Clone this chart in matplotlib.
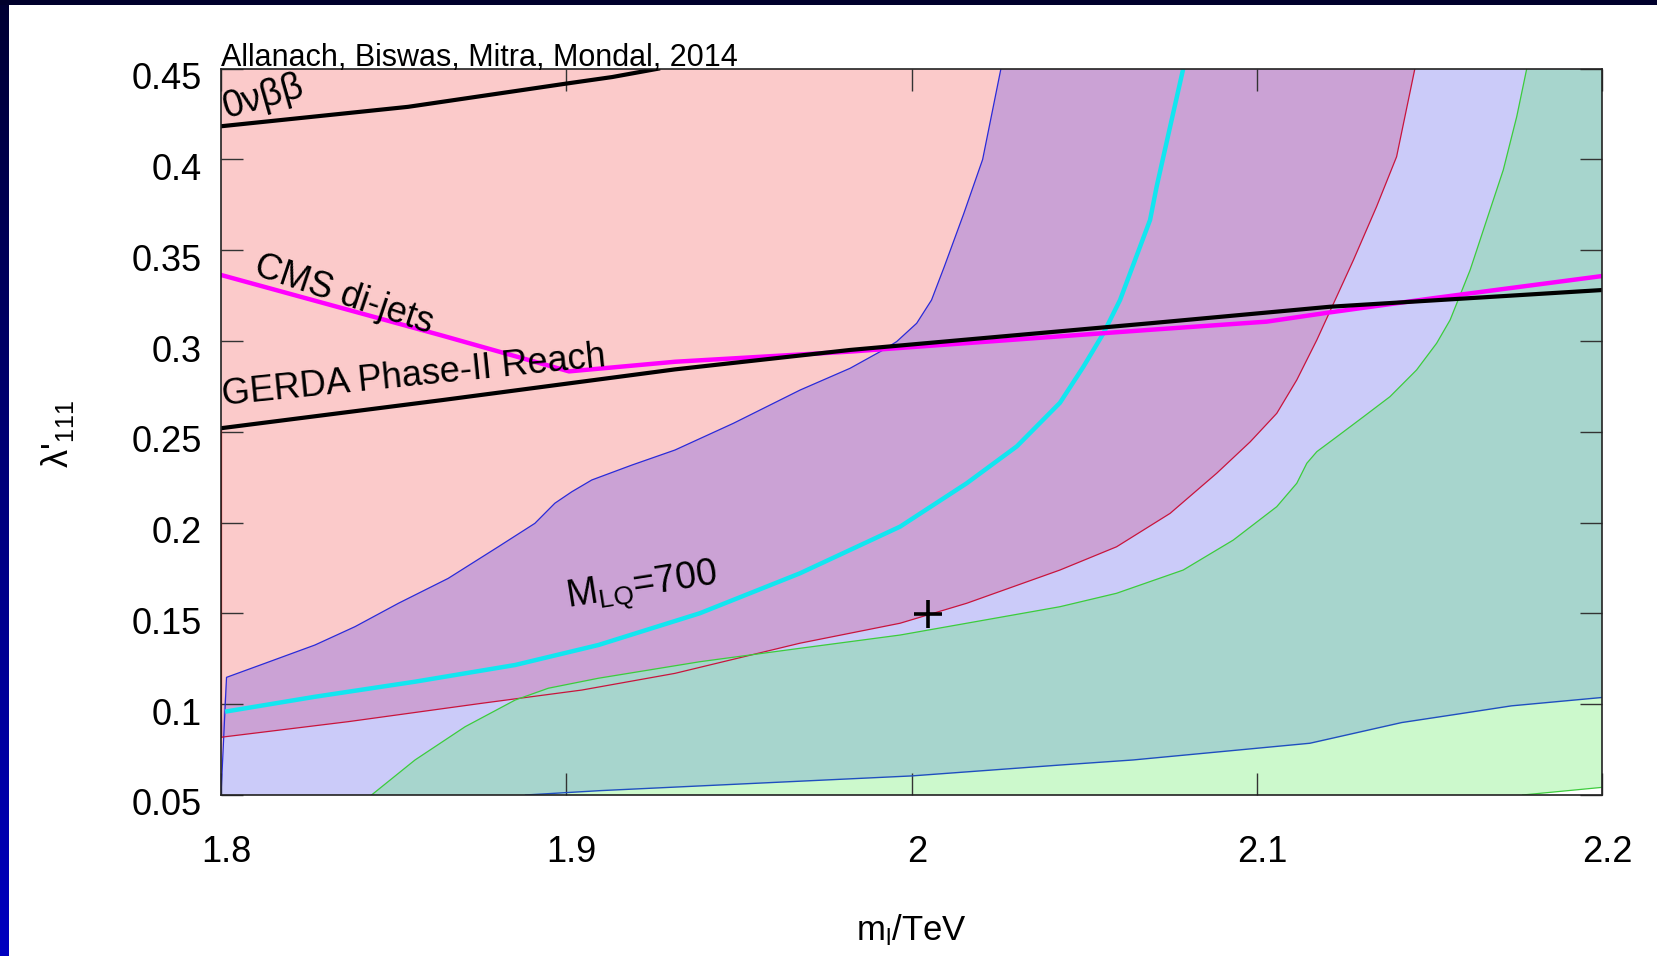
import numpy as np
import matplotlib
matplotlib.use("Agg")
import matplotlib.pyplot as plt
from matplotlib.transforms import ScaledTranslation

plt.rcParams['font.family'] = ['Liberation Sans', 'DejaVu Sans']
plt.rcParams['mathtext.default'] = 'regular'

# boundary curves (m_l in TeV, lambda'_111)
blue_up_x = [1.8, 1.8016, 1.8127, 1.8272, 1.8388, 1.8514, 1.8658, 1.8803, 1.8909, 1.8967,
             1.9016, 1.9074, 1.9190, 1.9315, 1.9484, 1.9677, 1.9822, 1.9918, 1.9957, 2.0015,
             2.0058, 2.0095, 2.0151, 2.0206, 2.0259]
blue_up_y = [0.05, 0.1148, 0.1225, 0.1326, 0.1427, 0.1556, 0.1693, 0.1867, 0.1996, 0.2107,
             0.2170, 0.2235, 0.2317, 0.2400, 0.2547, 0.2730, 0.2850, 0.2951, 0.2997, 0.3098,
             0.3226, 0.341, 0.370, 0.400, 0.45]

red_x = [1.8, 1.8369, 1.8755, 1.9045, 1.9315, 1.9677, 1.9967, 2.0160, 2.0430, 2.0594, 2.0749,
         2.0884, 2.0981, 2.1058, 2.1116, 2.1174, 2.1227, 2.1280, 2.1347, 2.1405, 2.1458]
red_y = [0.0818, 0.0904, 0.1005, 0.1078, 0.1170, 0.1336, 0.1446, 0.1556, 0.1739, 0.1867, 0.2051,
         0.2272, 0.2445, 0.2602, 0.2786, 0.3006, 0.3226, 0.3446, 0.374, 0.4015, 0.45]

green_x = [1.8436, 1.8562, 1.8707, 1.8852, 1.8948, 1.9093, 1.9387, 1.9677, 1.9967, 2.0160,
           2.0430, 2.0594, 2.0787, 2.0932, 2.1058, 2.1116, 2.1145, 2.1174, 2.1232, 2.1309,
           2.1386, 2.1463, 2.1521, 2.1560, 2.1618, 2.1666, 2.1714, 2.1753, 2.1782]
green_y = [0.05, 0.0693, 0.0876, 0.1023, 0.1088, 0.1143, 0.1234, 0.1308, 0.1381, 0.1446,
           0.1537, 0.1611, 0.1739, 0.1904, 0.2088, 0.2217, 0.2327, 0.2391, 0.2473, 0.2583,
           0.2694, 0.2841, 0.2988, 0.3116, 0.3391, 0.3667, 0.3942, 0.4236, 0.45]

blue_lo_x = [1.8882, 1.9098, 2.0, 2.043, 2.0642, 2.1154, 2.142, 2.158, 2.1738, 2.2]
blue_lo_y = [0.05, 0.0524, 0.0605, 0.0665, 0.0693, 0.0785, 0.0899, 0.0945, 0.0991, 0.1037]

green_lo_x = [2.177, 2.2]
green_lo_y = [0.05, 0.0542]

cyan_x = [1.8012, 1.8272, 1.8562, 1.8852, 1.9093, 1.9387, 1.9677, 1.9967, 2.0160, 2.0305,
          2.0430, 2.0498, 2.0556, 2.0604, 2.0691, 2.0710, 2.0749, 2.0787]
cyan_y = [0.0959, 0.1041, 0.1124, 0.1216, 0.1326, 0.1501, 0.1721, 0.1978, 0.2217, 0.2420,
          0.2660, 0.2859, 0.3043, 0.3226, 0.3667, 0.385, 0.418, 0.45]

cms_x = [1.8, 1.8641, 1.9008, 1.9315, 1.9822, 2.0691, 2.1029, 2.1212, 2.1511, 2.2]
cms_y = [0.3364, 0.303, 0.2833, 0.2886, 0.2942, 0.3062, 0.3107, 0.3158, 0.3236, 0.3358]

gerda_x = [1.8, 1.8641, 1.9315, 1.9822, 2.0691, 2.1212, 2.2]
gerda_y = [0.252, 0.2675, 0.2844, 0.2951, 0.3098, 0.3189, 0.3281]

onubb_x = [1.8, 1.8542, 1.9, 1.9133, 1.9266]
onubb_y = [0.4183, 0.429, 0.4418, 0.4454, 0.45]

best_fit = (2.0049, 0.1497)

xticks = [1.8, 1.9, 2.0, 2.1, 2.2]
xticklabels = ['1.8', '1.9', '2', '2.1', '2.2']
yticks = [0.05, 0.1, 0.15, 0.2, 0.25, 0.3, 0.35, 0.4, 0.45]
yticklabels = ['0.05', '0.1', '0.15', '0.2', '0.25', '0.3', '0.35', '0.4', '0.45']

PINK = '#fbcaca'
PURPLE = '#cba2d5'
LAVENDER = '#cbcbf9'
TEAL = '#a7d5cd'
LIGHTGREEN = '#ccf9cc'

fig = plt.figure(figsize=(16.58, 9.56), dpi=100)

# slide background strips
grad = np.linspace(0, 1, 256).reshape(-1, 1)
side = fig.add_axes([0, 0, 9 / 1658, 1])
side.imshow(grad, aspect='auto', cmap=matplotlib.colors.LinearSegmentedColormap.from_list(
    'sl', ['#000033', '#0000c0']))
side.set_axis_off()
top = fig.add_axes([0, 1 - 5 / 956, 1, 5 / 956])
top.set_facecolor('#00002c')
top.set_xticks([])
top.set_yticks([])
for s in top.spines.values():
    s.set_visible(False)

ax = fig.add_axes([221 / 1658, 1 - 795 / 956, (1602 - 221) / 1658, (795 - 68.7) / 956])
ax.set_facecolor(PINK)
ax.set_xlim(1.8, 2.2)
ax.set_ylim(0.05, 0.45)

# filled regions
bx = blue_up_x + [2.2] + blue_lo_x[::-1]
by = blue_up_y + [0.45] + blue_lo_y[::-1]
ax.fill(bx, by, color=LAVENDER, lw=0)

px = blue_up_x[1:] + red_x[::-1]
py = blue_up_y[1:] + red_y[::-1]
ax.fill(px, py, color=PURPLE, lw=0)

tx = green_x + [2.2] + blue_lo_x[::-1]
ty = green_y + [0.45] + blue_lo_y[::-1]
ax.fill(tx, ty, color=TEAL, lw=0)

gx = blue_lo_x + green_lo_x[::-1]
gy = blue_lo_y + green_lo_y[::-1]
ax.fill(gx, gy, color=LIGHTGREEN, lw=0)
ax.fill(green_lo_x + [2.2], green_lo_y + [0.05], color='white', lw=0)

# thin boundaries
ax.plot(blue_up_x, blue_up_y, color='#2a2ad8', lw=0.9)
ax.plot(red_x, red_y, color='#c8143c', lw=0.9)
ax.plot([1.8, 1.8], [red_y[0], gerda_y[0]], color='#e01010', lw=1.6)
ax.plot(green_x, green_y, color='#3ccc3c', lw=0.9)
ax.plot(green_lo_x, green_lo_y, color='#3ccc3c', lw=0.9)
ax.plot(blue_lo_x, blue_lo_y, color='#1f4fbf', lw=1.0)

# thick lines
ax.plot(cyan_x, cyan_y, color='#12e6f0', lw=3.2, solid_capstyle='butt')
ax.plot(cms_x, cms_y, color='#ff00ff', lw=3.2)
ax.plot(gerda_x, gerda_y, color='black', lw=3.0)
ax.plot(onubb_x, onubb_y, color='black', lw=3.0)
ax.plot(*best_fit, marker='+', color='black', ms=20, mew=2.6)

# annotations
ax.text(1.8015, 0.4225, '0νββ', fontsize=27, rotation=16, rotation_mode='anchor',
        ha='left', va='baseline')
ax.text(1.809, 0.3365, 'CMS di-jets', fontsize=26, rotation=-18.5, rotation_mode='anchor',
        ha='left', va='baseline')
ax.text(1.8007, 0.2648, 'GERDA Phase-II Reach', fontsize=26, rotation=5.8,
        rotation_mode='anchor', ha='left', va='baseline')
ax.text(1.9006, 0.1528, 'M$_{LQ}$=700', fontsize=27, rotation=9, rotation_mode='anchor',
        ha='left', va='baseline')
ax.text(0, 1.004, 'Allanach, Biswas, Mitra, Mondal, 2014', transform=ax.transAxes,
        fontsize=22, ha='left', va='baseline')

ax.set_xticks(xticks)
ax.set_xticklabels(xticklabels)
ax.set_yticks(yticks)
ax.set_yticklabels(yticklabels)
ax.tick_params(direction='in', length=16, width=1, top=True, right=True, labelsize=26,
               color='#333333')
ax.tick_params(axis='x', pad=29)
ax.tick_params(axis='y', pad=14)
for lab in ax.get_yticklabels():
    lab.set_transform(lab.get_transform() + ScaledTranslation(0, -5 / 72, fig.dpi_scale_trans))
for lab in ax.get_xticklabels():
    lab.set_transform(lab.get_transform() + ScaledTranslation(4 / 72, 0, fig.dpi_scale_trans))
for s in ax.spines.values():
    s.set_linewidth(1.2)
    s.set_color('#222222')

fig.text(911 / 1658, 1 - 930 / 956, 'm$_l$/TeV', fontsize=25, ha='center', va='center')
fig.text(58 / 1658, 1 - 434 / 956, "λ$'_{111}$", fontsize=26, rotation=90,
         ha='center', va='center')

fig.savefig('out.png', dpi=100, facecolor='white')
